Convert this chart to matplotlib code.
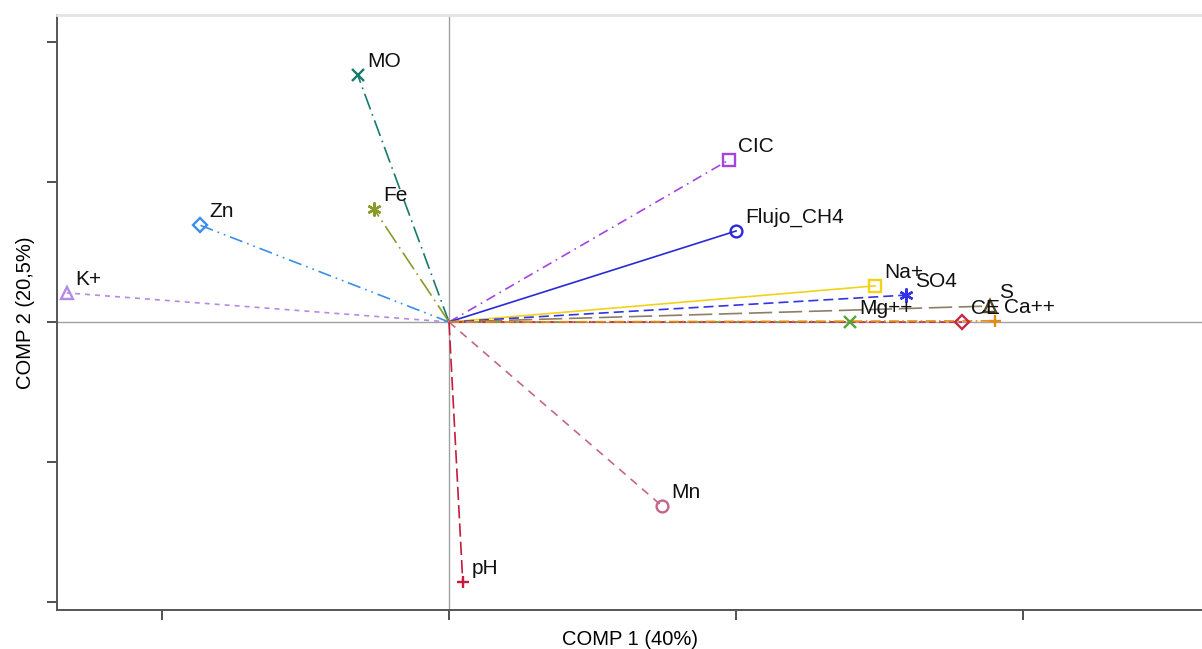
import matplotlib
matplotlib.use("Agg")
import matplotlib.pyplot as plt

# Loadings (COMP 1, COMP 2)
labels = ["K+", "Zn", "MO", "Fe", "CIC", "Flujo_CH4", "Na+", "SO4",
          "S", "Mg++", "CE", "Ca++", "Mn", "pH"]
comp1 = [-0.666, -0.434, -0.159, -0.131, 0.488, 0.500, 0.742, 0.796,
         0.942, 0.699, 0.894, 0.951, 0.371, 0.024]
comp2 = [0.104, 0.346, 0.882, 0.404, 0.579, 0.325, 0.129, 0.096,
         0.057, 0.000, 0.000, 0.004, -0.657, -0.929]

colors = ["#b48ae8", "#3a8ee6", "#177a6c", "#8a9a2a", "#a445e0", "#2a2ad6",
          "#f2d21a", "#3434e6", "#8c7f66", "#52a636", "#c42a45", "#e68a10",
          "#c4668c", "#c41c3a"]
marker_colors = ["#b48ae8", "#3a8ee6", "#177a6c", "#8a9a2a", "#a445e0", "#2a2ad6",
                 "#f2d21a", "#3434e6", "#5a4a2a", "#52a636", "#c42a45", "#e68a10",
                 "#c4668c", "#c41c3a"]
markers = ["^", "D", "x", (6, 2, 0), "s", "o", "s", (6, 2, 0), "^", "x", "D", "+", "o", "+"]
styles = [(0, (3, 3)), (0, (8, 3, 1, 3, 1, 3)), (0, (10, 3, 1, 3)), (0, (12, 3, 1, 3)),
          (0, (6, 3, 1, 3)), "solid", "solid", (0, (6, 3)),
          (0, (14, 4)), (0, (2, 2)), (0, (4, 2)), (0, (6, 2, 1, 2)),
          (0, (5, 4)), (0, (8, 3))]

fig = plt.figure(figsize=(12.02, 6.49), dpi=100)
ax = fig.add_axes([57 / 1202, 39 / 649, 1 - 57 / 1202, (610 - 15) / 649])

ax.axhline(0, color="#a0a0a0", lw=1.0, zorder=1)
ax.axvline(0, color="#a0a0a0", lw=1.0, zorder=1)

for lab, x, y, c, mc, m, ls in zip(labels, comp1, comp2, colors, marker_colors, markers, styles):
    ax.plot([0, x], [0, y], color=c, lw=1.2, linestyle=ls, zorder=2)
    filled = m in ("x", "+") or isinstance(m, tuple)
    size = 7 if m == "D" else (10 if isinstance(m, tuple) else 8.5)
    ax.plot([x], [y], marker=m, ms=size,
            mfc=mc if filled else "none", mec=mc, mew=1.7, linestyle="none", zorder=3)
    ax.annotate(lab, (x, y), xytext=(6.5, 6), textcoords="offset points",
                ha="left", va="baseline", fontsize=15, family="Liberation Sans",
                color="#111111", zorder=4)

ax.set_xlim((57 - 449) / 574, (1202 - 449) / 574)
ax.set_ylim((322 - 610) / 280, (322 - 15) / 280)
ax.set_xticks([-0.5, 0, 0.5, 1.0])
ax.set_yticks([-1.0, -0.5, 0, 0.5, 1.0])
ax.set_xticklabels([])
ax.set_yticklabels([])
ax.tick_params(direction="out", length=7, width=1.2, color="#333333")

for s in ("left", "bottom"):
    ax.spines[s].set_color("#555555")
    ax.spines[s].set_linewidth(1.4)
ax.spines["top"].set_color("#e4e4e4")
ax.spines["top"].set_linewidth(2)
ax.spines["right"].set_visible(False)

ax.set_xlabel("COMP 1 (40%)", fontsize=14.5, family="Liberation Sans", labelpad=4)
ax.set_ylabel("COMP 2 (20,5%)", fontsize=14.5, family="Liberation Sans", labelpad=5)

fig.savefig("out.png", dpi=100)
